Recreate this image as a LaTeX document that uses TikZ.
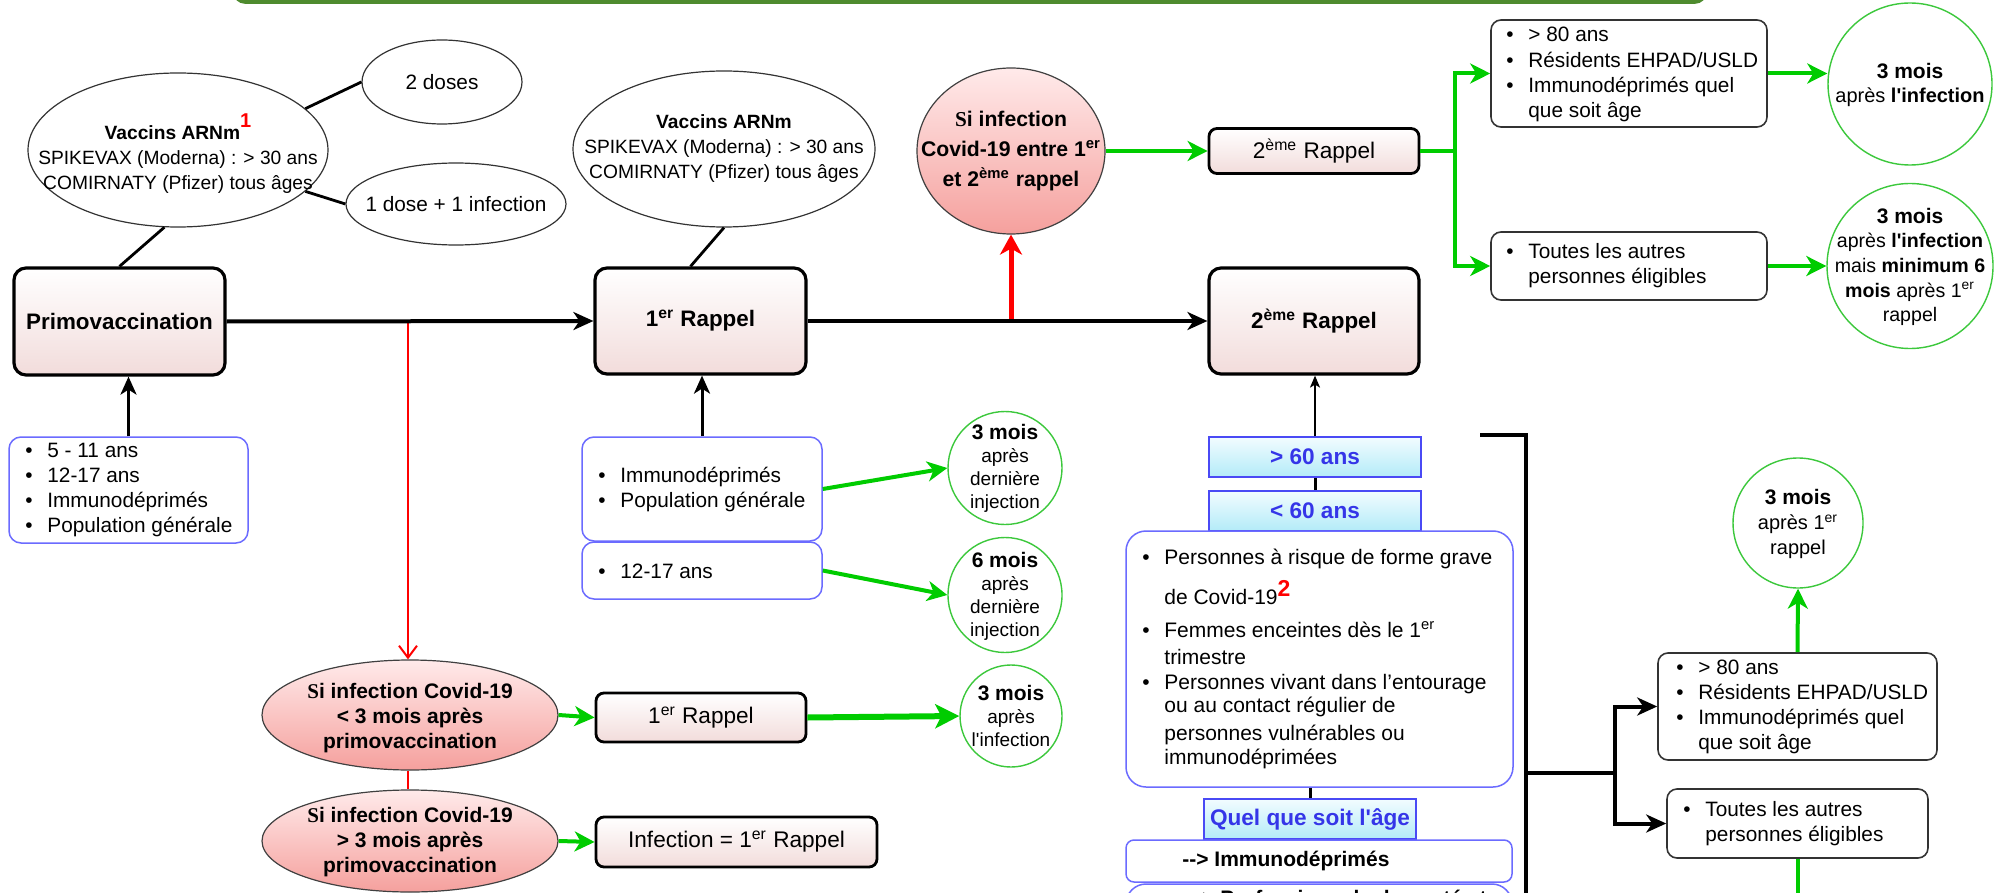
\documentclass[tikz,border=0pt]{standalone}
\usepackage{fontspec}
\setmainfont{Liberation Sans}
\newfontfamily\serifS{Liberation Serif}
\usetikzlibrary{arrows.meta,shapes.geometric}

\definecolor{pinkb}{HTML}{F2DCDB}
\definecolor{redtop}{HTML}{FFEAEA}
\definecolor{redbot}{HTML}{F5A09D}
\definecolor{gcol}{HTML}{00CC00}
\definecolor{gcircle}{HTML}{3CC83C}
\definecolor{bl}{HTML}{6B6BFF}
\definecolor{cyd}{HTML}{4A4AF5}
\definecolor{cyt}{HTML}{3535E8}
\definecolor{cytop}{HTML}{F2FCFF}
\definecolor{cybot}{HTML}{B3EBF8}
\definecolor{bannerg}{HTML}{4E8B2E}
\definecolor{bannerfill}{HTML}{F0F8EA}

\newcommand\sx[1]{\textsuperscript{#1}}
\newcommand\bu{\makebox[11pt][l]{\textbullet}}
\newcommand\ind{\hspace*{11pt}}

\tikzset{
 pinkbox/.style={rectangle, draw=black, line width=1.6pt, rounded corners=6pt, top color=white, bottom color=pinkb, inner sep=0pt, align=center},
 pinkbig/.style={pinkbox, font=\bfseries\fontsize{11.2}{13}\selectfont},
 pinksmall/.style={pinkbox, line width=1.4pt, rounded corners=4pt, font=\fontsize{11.3}{13}\selectfont},
 wellipse/.style={ellipse, draw=black!80, line width=0.6pt, fill=white, inner sep=0pt},
 rellipse/.style={ellipse, draw=black!75, line width=0.6pt, top color=redtop, bottom color=redbot, inner sep=0pt},
 gcirc/.style={ellipse, draw=gcircle, line width=0.7pt, fill=white, inner sep=0pt},
 tx/.style={inner sep=0pt, align=center, font=\fontsize{10.4}{12.6}\selectfont},
 lt/.style={inner sep=0pt, align=left, anchor=west, font=\fontsize{10.4}{12.6}\selectfont},
 listbox/.style={rectangle, draw=bl, line width=0.75pt, rounded corners=6pt, fill=white, inner sep=0pt},
 graybox/.style={rectangle, draw=black!80, line width=0.8pt, rounded corners=5pt, fill=white, inner sep=0pt},
 cybox/.style={rectangle, draw=cyd, line width=1pt, top color=cytop, bottom color=cybot, inner sep=0pt, text=cyt, font=\bfseries\fontsize{11.3}{13}\selectfont},
 cn/.style={draw=black, line width=1.4pt},
 bk/.style={draw=black, line width=2pt},
 bka/.style={bk, -{Stealth[length=10pt,width=9pt,inset=3pt]}},
 upa/.style={draw=black, line width=1.5pt, -{Stealth[length=9pt,width=8pt,inset=2.5pt]}},
 thina/.style={draw=black, line width=0.8pt, -{Stealth[length=6pt,width=5pt,inset=1.5pt]}},
 gl/.style={draw=gcol, line width=2pt},
 gla/.style={gl, -{Stealth[length=10pt,width=10pt,inset=3pt]}},
}

\begin{document}
\begin{tikzpicture}[x=0.5pt,y=-0.5pt]
\useasboundingbox (0,0) rectangle (2001,893);
\fill[white] (0,0) rectangle (2001,893);
% banner (cut off at top)
\draw[draw=bannerg, line width=1.8pt, fill=bannerfill, rounded corners=5pt] (235,-60) rectangle (1705,2);

% ---- main pink boxes
\node[pinkbig, minimum width=105.5pt, minimum height=53.5pt] (primo) at (119.5,321.5) {Primovaccination};
\node[pinkbig, minimum width=105.5pt, minimum height=53pt] (r1) at (700.5,321) {1\sx{er} Rappel};
\node[pinkbig, minimum width=105pt, minimum height=53pt] (r2) at (1314,321) {2\sx{ème} Rappel};

% ---- vaccine ellipses
\node[wellipse, minimum width=150pt, minimum height=77pt] (vacc1) at (178,150) {};
\node[tx, font=\fontsize{9.6}{12.5}\selectfont] (vacc1t) at (178,154) {\textbf{Vaccins ARNm}\raisebox{6pt}{\textcolor{red}{\bfseries\fontsize{10}{10}\selectfont 1}}\\SPIKEVAX (Moderna) : > 30 ans\\COMIRNATY (Pfizer) tous âges};
\node[wellipse, minimum width=80pt, minimum height=42pt] (dos2) at (442,82) {};
\node[tx] (dos2t) at (442,82) {2 doses};
\node[wellipse, minimum width=110pt, minimum height=41pt] (dos1) at (456,204) {};
\node[tx] (dos1t) at (456,204) {1 dose + 1 infection};
\node[wellipse, minimum width=151pt, minimum height=78pt] (vacc2) at (724,149) {};
\node[tx, font=\fontsize{9.6}{12.5}\selectfont] (vacc2t) at (724,149) {\textbf{Vaccins ARNm}\\SPIKEVAX (Moderna) : > 30 ans\\COMIRNATY (Pfizer) tous âges};

% ---- red circle and top branch
\node[rellipse, minimum width=94pt, minimum height=83pt] (redc) at (1011,151) {};
\node[tx, font=\bfseries\fontsize{10.6}{15}\selectfont] (redct) at (1011,151) {{\serifS S}i infection\\Covid-19 entre 1\sx{er}\\et 2\sx{ème} rappel};
\node[pinksmall, minimum width=105pt, minimum height=22.5pt] (r2s) at (1314,151) {2\sx{ème} Rappel};

\node[graybox, minimum width=138pt, minimum height=53.5pt] (tr1) at (1629,73.5) {};
\node[lt] (tr1t) at (1506,74.5) {\bu > 80 ans\\\bu Résidents EHPAD/USLD\\\bu Immunodéprimés quel\\\ind que soit âge};
\node[graybox, minimum width=138pt, minimum height=34pt] (tr2) at (1629,266) {};
\node[lt] (tr2t) at (1506,266) {\bu Toutes les autres\\\ind personnes éligibles};

\node[gcirc, minimum width=82pt, minimum height=81pt] (c1) at (1910,84) {};
\node[tx, font=\fontsize{10}{12}\selectfont] (c1t) at (1910,85) {{\bfseries\fontsize{10.5}{12}\selectfont 3 mois}\\après \textbf{l\textquotesingle infection}};
\node[gcirc, minimum width=83pt, minimum height=82.5pt] (c2) at (1910,266) {};
\node[tx, font=\fontsize{9.8}{12.3}\selectfont] (c2t) at (1910,267) {{\bfseries\fontsize{10.5}{12.3}\selectfont 3 mois}\\après \textbf{l\textquotesingle infection}\\mais \textbf{minimum 6}\\\textbf{mois} après 1\sx{er}\\rappel};

% ---- left list
\node[listbox, minimum width=119.5pt, minimum height=53pt] (ll) at (128.5,490) {};
\node[lt] (llt) at (25,490) {\bu 5 - 11 ans\\\bu 12-17 ans\\\bu Immunodéprimés\\\bu Population générale};

% ---- middle lists and circles
\node[listbox, minimum width=120pt, minimum height=52pt] (m1) at (702,489) {};
\node[lt] (m1t) at (598,489.5) {\bu Immunodéprimés\\\bu Population générale};
\node[listbox, minimum width=120pt, minimum height=28.5pt] (m2) at (702,570.5) {};
\node[lt] (m2t) at (598,571) {\bu 12-17 ans};

\node[gcirc, minimum width=57pt, minimum height=56.5pt] (gc1) at (1005,468) {};
\node[tx, font=\fontsize{9.5}{11.5}\selectfont] (gc1t) at (1005,468) {{\bfseries\fontsize{10.5}{11.5}\selectfont 3 mois}\\après\\dernière\\injection};
\node[gcirc, minimum width=57pt, minimum height=57.5pt] (gc2) at (1005,595) {};
\node[tx, font=\fontsize{9.5}{11.5}\selectfont] (gc2t) at (1005,596) {{\bfseries\fontsize{10.5}{11.5}\selectfont 6 mois}\\après\\dernière\\injection};

% ---- bottom left infection branch
\node[rellipse, minimum width=148pt, minimum height=55pt] (re1) at (410,715) {};
\node[tx, font=\bfseries\fontsize{10.5}{12.5}\selectfont] (re1t) at (410,718) {{\serifS S}i infection Covid-19\\< 3 mois après\\primovaccination};
\node[rellipse, minimum width=148pt, minimum height=51pt] (re2) at (410,841) {};
\node[tx, font=\bfseries\fontsize{10.5}{12.5}\selectfont] (re2t) at (410,842) {{\serifS S}i infection Covid-19\\> 3 mois après\\primovaccination};
\node[pinksmall, minimum width=105pt, minimum height=24.5pt] (r1b) at (701,717.5) {1\sx{er} Rappel};
\node[pinksmall, minimum width=140.5pt, minimum height=25pt] (infb) at (736.5,842) {Infection = 1\sx{er} Rappel};
\node[gcirc, minimum width=51pt, minimum height=51pt] (gc3) at (1011,716) {};
\node[tx, font=\fontsize{9.5}{11.7}\selectfont] (gc3t) at (1011,716) {{\bfseries\fontsize{10.5}{11.7}\selectfont 3 mois}\\après\\l\textquotesingle infection};

% ---- second booster eligibility column
\node[cybox, minimum width=106pt, minimum height=20pt] (gt60) at (1315,457) {> 60 ans};
\node[cybox, minimum width=106pt, minimum height=20pt] (lt60) at (1315,511) {< 60 ans};
\node[rectangle, draw=bl, line width=0.75pt, rounded corners=10pt, fill=white, inner sep=0pt, minimum width=193.5pt, minimum height=128pt] (big) at (1319.5,659) {};
\node[lt, font=\fontsize{10.5}{12.5}\selectfont] (bigt) at (1142,659) {\bu Personnes à risque de forme grave\\[5pt]
\ind de Covid-19\raisebox{4pt}{\textcolor{red}{\bfseries\fontsize{11.5}{11.5}\selectfont 2}}\\[4pt]
\bu Femmes enceintes dès le 1\sx{er}\\[1pt]
\ind trimestre\\
\bu Personnes vivant dans l’entourage\\[-1pt]
\ind ou au contact régulier de\\[1.5pt]
\ind personnes vulnérables ou\\[-0.5pt]
\ind immunodéprimées};
\node[cybox, minimum width=106pt, minimum height=20pt] (quel) at (1310,819) {Quel que soit l\textquotesingle âge};
\node[listbox, rounded corners=4pt, minimum width=193pt, minimum height=21pt] (immu) at (1319,861) {};
\node[lt, font=\bfseries\fontsize{10.5}{12.6}\selectfont] (immut) at (1182,861) {-{}-> Immunodéprimés};
\node[listbox, rounded corners=10pt, minimum width=193pt, minimum height=40pt] (prof) at (1319,924) {};
\node[lt, anchor=base west, font=\bfseries\fontsize{10.5}{12.6}\selectfont] (proft) at (1188,905) {-{}-> Professionnels de santé et};

% ---- bottom right
\node[graybox, minimum width=139.5pt, minimum height=53.5pt] (br1) at (1797.5,706.5) {};
\node[lt] (br1t) at (1676,707) {\bu > 80 ans\\\bu Résidents EHPAD/USLD\\\bu Immunodéprimés quel\\\ind que soit âge};
\node[graybox, minimum width=130.5pt, minimum height=34.5pt] (br2) at (1797.5,823.5) {};
\node[lt] (br2t) at (1683,824) {\bu Toutes les autres\\\ind personnes éligibles};
\node[gcirc, minimum width=65pt, minimum height=65pt] (gc4) at (1798,523) {};
\node[tx, font=\fontsize{10}{12.5}\selectfont] (gc4t) at (1798,524) {{\bfseries\fontsize{10.5}{12.5}\selectfont 3 mois}\\après 1\sx{er}\\rappel};

% ---- coordinates
\coordinate (rsplit) at (408,321);
\coordinate (rup) at (1011,321);
\coordinate (gj) at (1455,151);
\coordinate (bkA) at (1480,435);
\coordinate (bkB) at (1526,960);
\coordinate (bkM) at (1526,773);
\coordinate (bkJ) at (1615,773);
\coordinate (gdown) at (1797.5,960);

% ---- connectors
\draw[cn] (vacc1.18) -- (dos2.180);
\draw[cn] (vacc1.-18) -- (dos1.180);
\draw[cn] (vacc1.-100) -- (primo.north);
\draw[cn] (vacc2.south) -- ([xshift=-5pt]r1.north);

\draw[draw=red, line width=1pt, -{Straight Barb[length=6pt,width=9pt]}] (rsplit) -- (rsplit |- re1.north);
\draw[draw=red, line width=1pt] (re1.south -| rsplit) -- (re2.north -| rsplit);
\draw[draw=red, line width=2.5pt, -{Stealth[length=10pt,width=11pt,inset=3pt]}] (rup) -- (redc.south);

\draw[bka] (primo.east) -- (r1.west);
\draw[bka] (r1.east) -- (r2.west);

\draw[upa] (ll.north) -- (ll.north |- primo.south);
\draw[upa] (m1.north) -- (m1.north |- r1.south);
\draw[thina] (gt60.north) -- (gt60.north |- r2.south);
\draw[line width=1.5pt] (gt60.south) -- (lt60.north);
\draw[line width=1.5pt] (quel.north |- big.south) -- (quel.north);

\draw[gla] (redc.east) -- (r2s.west);
\draw[gl] (r2s.east) -- (gj);
\draw[gla] (gj) |- (tr1.west);
\draw[gla] (gj) |- (tr2.west);
\draw[gla] (tr1.east) -- (tr1.east -| c1.west);
\draw[gla] (tr2.east) -- (c2.west);

\draw[gla] (m1.east) -- (gc1.west);
\draw[gla] (m2.east) -- (gc2.west);
\draw[gla] (re1.east) -- (r1b.west);
\draw[gla] (re2.east) -- (infb.west);
\draw[draw=gcol, line width=3pt, -{Stealth[length=12pt,width=12pt,inset=3pt]}] (r1b.east) -- (gc3.west);

\draw[bk] (bkA) -| (bkB);
\draw[bk] (bkM) -- (bkJ);
\draw[bka] (bkJ) |- (br1.west);
\draw[bka] (bkJ) |- (br2.west);
\draw[gla] (br1.north) -- (gc4.south);
\draw[gl] (br2.south) -- (gdown);
\end{tikzpicture}
\end{document}
